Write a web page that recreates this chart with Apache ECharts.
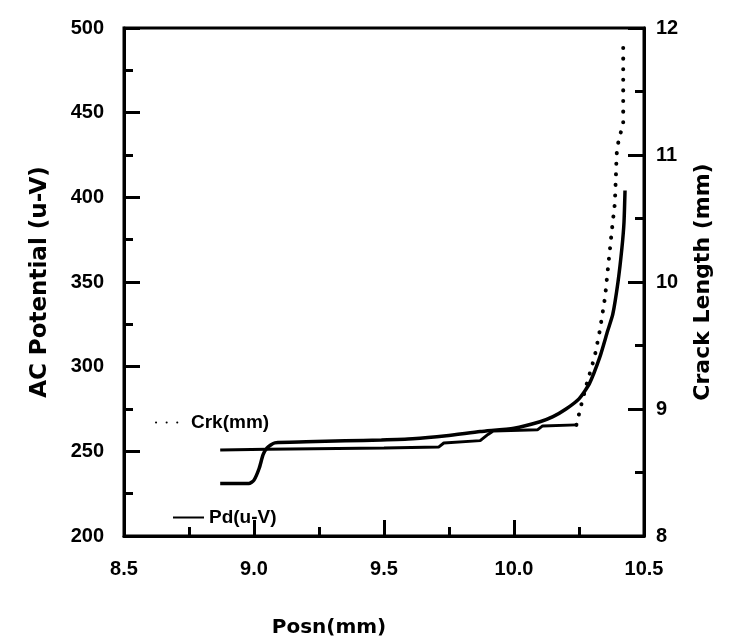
<!DOCTYPE html>
<html>
<head>
<meta charset="utf-8">
<script src="https://cdn.jsdelivr.net/npm/echarts@6/dist/echarts.min.js"></script>
<style>
html,body{margin:0;padding:0;background:#fff;}
#chart{width:747px;height:643px;}
</style>
</head>
<body>
<div id="chart"></div>
<script>
// Pd(u-V) — left axis
const pdPosn = [8.87, 8.98, 9.00, 9.02, 9.035, 9.05, 9.08, 9.20, 9.35, 9.49, 9.61, 9.74, 9.87, 10.00, 10.10, 10.15, 10.20, 10.25, 10.29, 10.33, 10.36, 10.38, 10.40, 10.415, 10.423, 10.427];
const pdValues = [231, 231, 233, 240, 248, 252, 255, 255.6, 256.2, 256.7, 257.4, 259.2, 261.7, 263.7, 267.5, 270.5, 275, 281, 290, 305.6, 321, 331, 350, 370, 385, 404];

// Crk(mm) — right axis, flat part (dense points, appears solid)
const crkFlatPosn = [8.87, 9.05, 9.50, 9.71, 9.73, 9.87, 9.90, 9.92, 10.09, 10.11, 10.24];
const crkFlatValues = [8.677, 8.683, 8.692, 8.700, 8.732, 8.751, 8.80, 8.827, 8.836, 8.867, 8.875];

// Crk(mm) — rising part (dotted)
const crkRisePosn = [10.24, 10.26, 10.28, 10.31, 10.33, 10.35, 10.363, 10.376, 10.388, 10.395, 10.404, 10.42, 10.42];
const crkRiseValues = [8.875, 9.044, 9.20, 9.41, 9.617, 9.877, 10.14, 10.40, 10.62, 11.01, 11.14, 11.23, 11.92];

const xTicks = [8.5, 9.0, 9.5, 10.0, 10.5];
const leftTicks = [200, 250, 300, 350, 400, 450, 500];
const rightTicks = [8, 9, 10, 11, 12];

const zip = (a, b) => a.map((v, i) => [v, b[i]]);
const TFONT = 'Liberation Sans';
const NFONT = 'DejaVu Sans';
const lbl = {color: '#000', fontFamily: TFONT, fontWeight: 'bold', fontSize: 20};
const nameStyle = {color: '#000', fontFamily: NFONT, fontWeight: 'bold', fontSize: 20};
const legendText = {color: '#000', fontFamily: TFONT, fontWeight: 'bold', fontSize: 19};

const chart = echarts.init(document.getElementById('chart'), null, {renderer: 'canvas'});
chart.setOption({
  backgroundColor: '#fff',
  animation: false,
  grid: {left: 124, right: 103, top: 28, bottom: 103, show: true, borderColor: '#000', borderWidth: 3},
  legend: [
    {data: ['Crk(mm)'], left: 150, top: 408, itemWidth: 30, itemHeight: 12, itemGap: 4,
     textStyle: legendText, itemStyle: {opacity: 0}},
    {data: ['Pd(u-V)'], left: 167, top: 503, itemWidth: 31, itemHeight: 12, itemGap: 2,
     textStyle: legendText, itemStyle: {opacity: 0}}
  ],
  xAxis: {
    type: 'value', min: xTicks[0], max: xTicks[xTicks.length - 1], interval: 0.5,
    name: 'Posn(mm)', nameLocation: 'middle', nameGap: 82,
    nameTextStyle: Object.assign({}, nameStyle, {padding: [0, 110, 0, 0]}),
    axisLine: {lineStyle: {color: '#000', width: 3}},
    axisTick: {inside: true, length: 16, lineStyle: {color: '#000', width: 3}},
    minorTick: {show: true, splitNumber: 2, length: 9, lineStyle: {color: '#000', width: 3}},
    splitLine: {show: false},
    axisLabel: Object.assign({margin: 23, formatter: v => v.toFixed(1)}, lbl)
  },
  yAxis: [
    {
      type: 'value', min: leftTicks[0], max: leftTicks[leftTicks.length - 1], interval: 50,
      name: 'AC Potential (u-V)', nameLocation: 'middle', nameGap: 72,
      nameTextStyle: Object.assign({}, nameStyle, {fontSize: 23}),
      axisLine: {show: true, lineStyle: {color: '#000', width: 3}},
      axisTick: {show: true, inside: true, length: 16, lineStyle: {color: '#000', width: 3}},
      minorTick: {show: true, splitNumber: 2, length: 9, lineStyle: {color: '#000', width: 3}},
      splitLine: {show: false},
      axisLabel: Object.assign({margin: 20}, lbl)
    },
    {
      type: 'value', position: 'right', min: rightTicks[0], max: rightTicks[rightTicks.length - 1], interval: 1,
      name: 'Crack Length (mm)', nameLocation: 'middle', nameGap: 48, nameRotate: 90,
      nameTextStyle: Object.assign({}, nameStyle, {fontSize: 22}),
      axisLine: {show: true, lineStyle: {color: '#000', width: 3}},
      axisTick: {show: true, inside: true, length: 16, lineStyle: {color: '#000', width: 3}},
      minorTick: {show: true, splitNumber: 2, length: 9, lineStyle: {color: '#000', width: 3}},
      splitLine: {show: false},
      axisLabel: Object.assign({margin: 12}, lbl)
    }
  ],
  series: [
    {
      name: 'Crk(mm)', type: 'line', yAxisIndex: 1, data: zip(crkRisePosn, crkRiseValues),
      showSymbol: false, symbol: 'circle', smooth: false, color: '#000',
      lineStyle: {color: '#000', width: 4, type: [0.1, 10.5], cap: 'round'}
    },
    {
      name: 'Crk(mm)', type: 'line', yAxisIndex: 1, data: zip(crkFlatPosn, crkFlatValues),
      showSymbol: false, symbol: 'circle', color: '#000',
      lineStyle: {color: '#000', width: 3}
    },
    {
      name: 'Pd(u-V)', type: 'line', yAxisIndex: 0, data: zip(pdPosn, pdValues),
      showSymbol: false, symbol: 'circle', smooth: 0.2, color: '#000',
      lineStyle: {color: '#000', width: 3.5}
    }
  ]
});
</script>
</body>
</html>
